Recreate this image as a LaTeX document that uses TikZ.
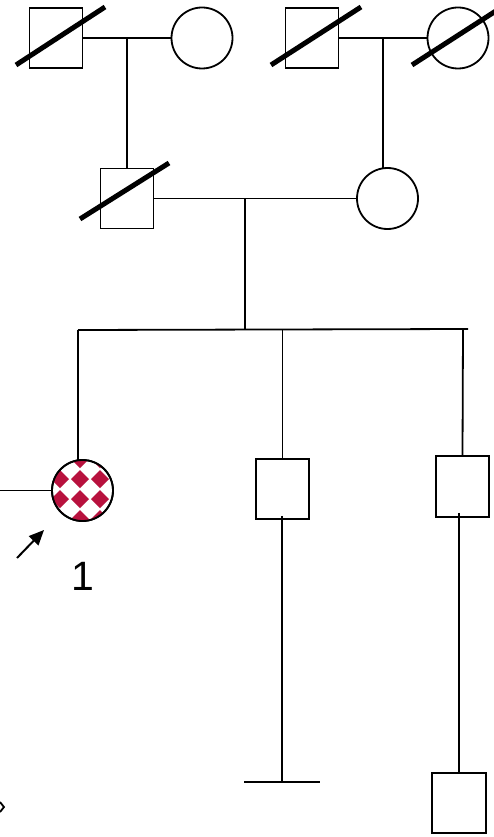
\documentclass[tikz,border=0pt]{standalone}
\usepackage{fontspec}
\setmainfont{Liberation Sans}
\usetikzlibrary{arrows.meta}
\definecolor{crim}{HTML}{B8123E}
\begin{document}
\begin{tikzpicture}[x=1pt,y=-1pt,line width=1.8pt,
  male/.style={draw,rectangle,inner sep=0pt,minimum width=53pt,minimum height=60pt,line width=1.8pt},
  female/.style={draw,circle,inner sep=0pt,minimum size=61pt,line width=1.8pt},
  slash/.style={line width=5pt},
  link/.style={line width=1.8pt}]
\useasboundingbox (0,0) rectangle (493,837);
% generation I
\node[male] (sq1) at (56,38) {};
\node[female] (c1) at (202,38) {};
\node[male] (sq2) at (312,38) {};
\node[female] (c2) at (458,38) {};
\draw[slash] ([shift={(-40,27)}]sq1.center) -- ([shift={(49,-31)}]sq1.center);
\draw[slash] ([shift={(-41,27)}]sq2.center) -- ([shift={(49,-31)}]sq2.center);
\draw[slash] ([shift={(-46,27)}]c2.center) -- ([shift={(44,-31)}]c2.center);
\coordinate (m1) at (127,38);
\coordinate (m2) at (383,38);
\draw[link] (sq1.east) -- (c1.west);
\draw[link] (sq2.east) -- (c2.west);
% generation II
\node[male] (sq3) at (127,198.5) {};
\node[female] (c3) at (387.5,198.5) {};
\draw[slash] ([shift={(-47,20.5)}]sq3.center) -- ([shift={(42,-35.5)}]sq3.center);
\draw[link] (m1) -- (sq3.north);
\coordinate (c3top) at (383,168.5);
\draw[link] (m2) -- (c3top);
\draw[link] (sq3.east) -- (c3.west);
\coordinate (m3) at (245,199);
\coordinate (s0) at (245,330);
\draw[link] (m3) -- (s0);
% sibship
\coordinate (sL) at (78,330);
\coordinate (sR) at (468,329);
\coordinate (s2) at (282.5,330);
\coordinate (s3) at (463,329);
\draw[link] (sL) -- (sR);
% generation III
\node[female,fill=white] (p) at (82.5,490.5) {};
\begin{scope}
\clip (p.center) circle (30.5pt);
\foreach \cx in {60,80,100}{
  \foreach \cy in {459,479,499,519}{
    \fill[crim] (\cx-9,\cy) -- (\cx,\cy-9) -- (\cx+9,\cy) -- (\cx,\cy+9) -- cycle;
  }
}
\end{scope}
\draw[line width=1.8pt] (p.center) circle (30.5pt);
\coordinate (ptop) at (78,460.5);
\draw[link] (sL) -- (ptop);
\coordinate (pl) at (0,490.5);
\draw[link] (pl) -- (p.west);
\coordinate (a0) at (17,558);
\coordinate (a1) at (44,530);
\draw[line width=2pt,-{Triangle[length=15pt,width=13pt]}] (a0) -- (a1);
\node (lab) at (83,576) {\fontsize{41}{41}\selectfont 1};
\node[male] (sq4) at (282.5,489) {};
\draw[link] (s2) -- (sq4.north);
\node[male,minimum height=61pt] (sq5) at (462.5,486.5) {};
\draw[link] (s3) -- (sq5.north);
% generation IV
\coordinate (b4) at (282,782);
\coordinate (bl) at (244,782);
\coordinate (br) at (320,782);
\draw[link] ([yshift=4pt]sq4.south -| b4) -- (b4);
\draw[link] (bl) -- (br);
\node[male,minimum width=54pt] (sq6) at (459,803) {};
\draw[link] ([yshift=5pt]sq5.south -| sq6.north) -- (sq6.north);
% stray mark at lower left
\coordinate (k0) at (0,802);
\coordinate (k1) at (4,807);
\coordinate (k2) at (0,812);
\draw[line width=1.8pt] (k0) -- (k1) -- (k2);
\end{tikzpicture}
\end{document}
